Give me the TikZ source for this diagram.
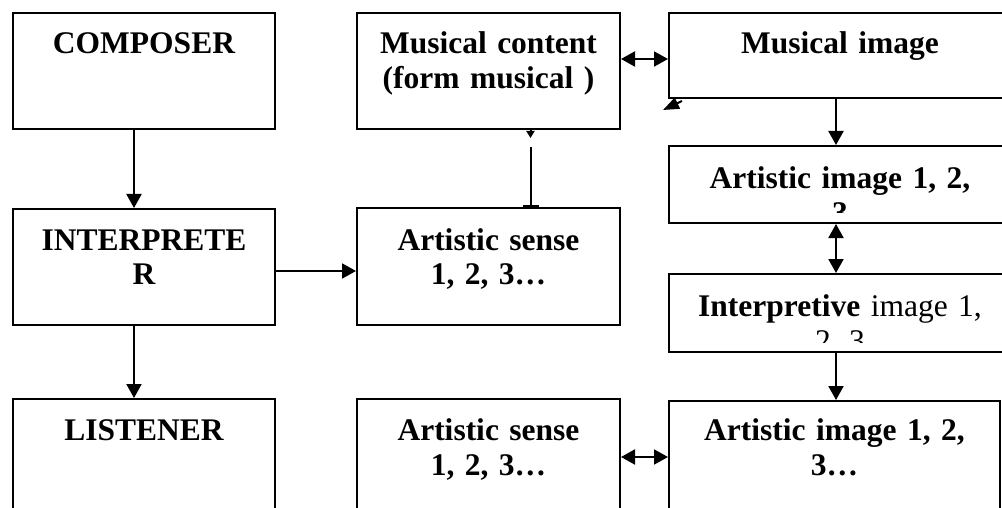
\documentclass[tikz,border=0pt]{standalone}
\usepackage{fontspec}
\setmainfont{Liberation Serif}
\usetikzlibrary{arrows.meta, positioning}
\tikzset{
  box/.style={draw, line width=2pt, inner sep=0pt, align=center, font=\fontsize{31.5}{35}\selectfont\bfseries},
  boxtext/.style={inner sep=0pt, align=center, anchor=north, text width=342pt, text height=41pt, font=\fontsize{31.5}{35}\selectfont\bfseries},
  cuttext/.style={path picture={
      \clip ([yshift=10pt]path picture bounding box.south west) rectangle (path picture bounding box.north east);
      \node[boxtext] at (path picture bounding box.north) {#1};}},
}

\begin{document}
\begin{tikzpicture}[x=1pt, y=-1pt, >={Triangle[width=15pt,length=14pt]}, line width=2pt]
\useasboundingbox (0,0) rectangle (1002,508);
\clip (0,0) rectangle (1002,508);
% left column
\node[box, text width=262pt, text height=41pt, text depth=75pt, anchor=north west] (composer) at (12,12) {COMPOSER};
\node[box, text width=262pt, text height=41pt, text depth=75pt, below=78pt of composer] (interp) {INTERPRETE\\R};
\node[box, text width=262pt, text height=41pt, text depth=120pt, below=72pt of interp] (listener) {LISTENER};
% middle column
\node[box, text width=263pt, text height=41pt, text depth=75pt, anchor=north west] (content) at (356,12) {Musical content\\(form musical )};
\node[box, text width=263pt, text height=42pt, text depth=75pt, below=77pt of content] (sense) {Artistic sense\\1, 2, 3…};
\node[box, text width=263pt, text height=41pt, text depth=120pt, below=72pt of sense] (sense2) {Artistic sense\\1, 2, 3…};
% right column
\node[box, text width=342pt, text height=41pt, text depth=44pt, anchor=north west] (musimg) at (668,12) {Musical image};
\node[box, minimum width=342pt, minimum height=77pt, below=46pt of musimg, cuttext={Artistic image 1, 2,\\3}] (artimg) {};
\node[box, minimum width=342pt, minimum height=78pt, below=49pt of artimg, cuttext={Interpretive {\mdseries image 1,}\\{\mdseries 2, 3}}] (interpimg) {};
\node[box, text width=331pt, text height=39pt, text depth=120pt, below=47pt of interpimg.south west, anchor=north west] (artimg2) {Artistic image 1, 2,\\3…};

\draw[->] ([xshift=-10pt]composer.south) -- ([xshift=-10pt]interp.north);
\draw[->] ([xshift=-10pt]interp.south) -- ([xshift=-10pt]listener.north);
\draw[->] ([yshift=-4pt]interp.east) -- ([yshift=-4pt]interp.east -| sense.west);
\draw[<->] ([yshift=12pt]content.east) -- ([yshift=12pt]content.east -| musimg.west);
\draw[{Bar[width=16pt]}-] ([xshift=42pt]sense.north) -- ([xshift=42pt,yshift=-17pt]content.south);
\draw[-{Triangle[width=8pt,length=7pt]}] ([xshift=42pt]content.south) -- ++(0,8);
\draw[-{Triangle[width=12pt,length=16pt]}] ([xshift=14pt,yshift=-2pt]musimg.south west) -- ([xshift=-5pt,yshift=-11pt]musimg.south west);
\draw[->] ([xshift=-4pt]musimg.south) -- ([xshift=-4pt]artimg.north);
\draw[<->] ([xshift=-4pt]artimg.south) -- ([xshift=-4pt]interpimg.north);
\draw[->] ([xshift=-4pt]interpimg.south) -- ([xshift=-4pt]interpimg.south |- artimg2.north);
\draw[<->] ([yshift=-59pt]sense2.north east) -- ([yshift=-59pt]sense2.north east -| artimg2.west);
\end{tikzpicture}
\end{document}
